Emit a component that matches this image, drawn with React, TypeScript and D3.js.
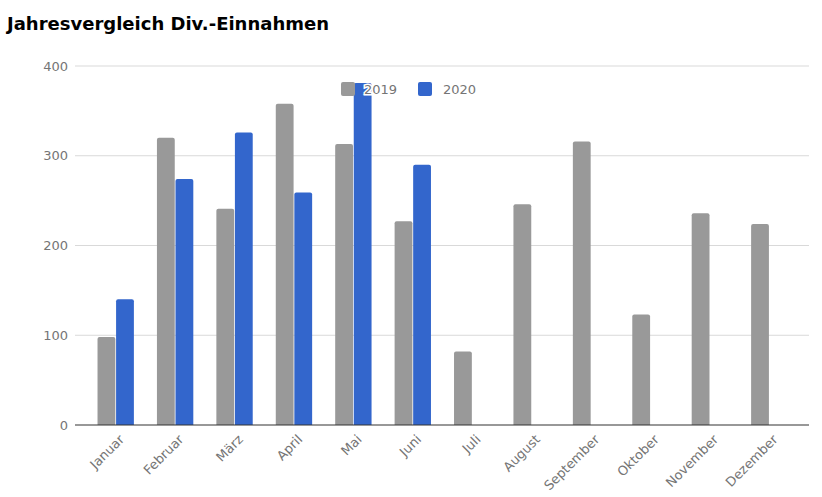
import React from "react";
import * as d3 from "d3";

const months = ["Januar", "Februar", "März", "April", "Mai", "Juni", "Juli", "August", "September", "Oktober", "November", "Dezember"];
const values2019 = [98, 320, 241, 358, 313, 227, 82, 246, 316, 123, 236, 224];
const values2020: (number | null)[] = [140, 274, 326, 259, 381, 290, null, null, null, null, null, null];
const seriesNames = ["2019", "2020"];
const seriesColors = ["#999999", "#3366CC"];
const yTicks = [0, 100, 200, 300, 400];

export default function App() {
  const W = 822, H = 497;
  const gridLeft = 75, gridRight = 809;
  const y = d3.scaleLinear().domain([0, 400]).range([425, 66]);
  const x = d3.scaleBand<string>().domain(months).range([86, 799]).paddingInner(0.388).paddingOuter(0.194);
  const xs = d3.scaleBand<string>().domain(seriesNames).range([0, x.bandwidth()]).paddingInner(0.04);
  const font = "'DejaVu Sans', Verdana, sans-serif";

  const barPath = (x0: number, w: number, y0: number, y1: number, r: number) => {
    const rr = Math.min(r, (y1 - y0) / 2, w / 2);
    return `M${x0},${y1}V${y0 + rr}Q${x0},${y0} ${x0 + rr},${y0}H${x0 + w - rr}Q${x0 + w},${y0} ${x0 + w},${y0 + rr}V${y1}Z`;
  };

  const series = [values2019, values2020];

  return (
    <svg width={W} height={H} style={{ position: "absolute", left: 0, top: 0, background: "#fff" }}>
      <text x={7} y={30} fontFamily={font} fontWeight="bold" fontSize={18} fill="#000">Jahresvergleich Div.-Einnahmen</text>
      {yTicks.map((t) => (
        <g key={t}>
          {t !== 0 && <line x1={gridLeft} x2={gridRight} y1={y(t)} y2={y(t)} stroke="#d9d9d9" strokeWidth={1} />}
          <text x={68} y={y(t)} dy="0.35em" textAnchor="end" fontFamily={font} fontSize={13} fill="#757575">{t}</text>
        </g>
      ))}
      {series.map((vals, si) =>
        vals.map((v, i) => {
          if (v == null) return null;
          const bx = (x(months[i]) as number) + (xs(seriesNames[si]) as number);
          return (
            <path key={`${si}-${i}`} d={barPath(bx, xs.bandwidth(), y(v), y(0), 2)} fill={seriesColors[si]} />
          );
        })
      )}
      <line x1={gridLeft} x2={gridRight} y1={y(0)} y2={y(0)} stroke="#333" strokeWidth={1.2} />
      {months.map((m) => {
        const cx = (x(m) as number) + x.bandwidth() / 2;
        return (
          <text key={m} transform={`translate(${cx + 6},${y(0) + 12}) rotate(-45)`} textAnchor="end" dy="0.35em" fontFamily={font} fontSize={13} fill="#757575">{m}</text>
        );
      })}
      <g>
        <rect x={341} y={82} width={14} height={14} rx={2} fill={seriesColors[0]} />
        <text x={364} y={89} dy="0.35em" fontFamily={font} fontSize={13} fill="#757575" stroke="#fff" strokeWidth={3} paintOrder="stroke">{seriesNames[0]}</text>
        <rect x={418} y={82} width={14} height={14} rx={2} fill={seriesColors[1]} />
        <text x={443} y={89} dy="0.35em" fontFamily={font} fontSize={13} fill="#757575" stroke="#fff" strokeWidth={3} paintOrder="stroke">{seriesNames[1]}</text>
      </g>
    </svg>
  );
}
